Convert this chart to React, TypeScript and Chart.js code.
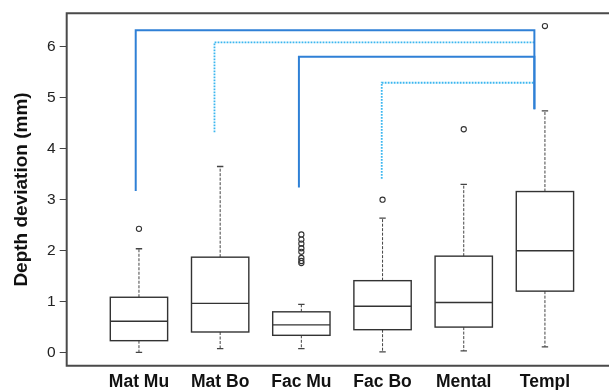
import React, { useEffect, useRef } from "react";
import { Chart, registerables } from "chart.js";

Chart.register(...registerables);

// ---- data ----
const categories = ["Mat Mu", "Mat Bo", "Fac Mu", "Fac Bo", "Mental", "Templ"];
const whiskerLow = [0.01, 0.085, 0.085, 0.02, 0.04, 0.12];
const q1 = [0.24, 0.41, 0.345, 0.455, 0.506, 1.21];
const median = [0.62, 0.97, 0.55, 0.915, 0.986, 2.0];
const q3 = [1.09, 1.875, 0.805, 1.415, 1.895, 3.16];
const whiskerHigh = [2.04, 3.65, 0.95, 2.64, 3.3, 4.74];
const outliers: number[][] = [
  [2.43],
  [],
  [2.32, 2.22, 2.14, 2.05, 1.98, 1.86, 1.8, 1.76],
  [3.0],
  [4.38],
  [6.4],
];
const yTicks = [0, 1, 2, 3, 4, 5, 6];

// significance brackets (x in category units, y in mm)
const bracketFromX = [0.96, 1.93, 2.97, 3.99];
const bracketToX = [5.87, 5.87, 5.87, 5.87];
const bracketStartY = [3.17, 4.32, 3.24, 3.41];
const bracketTopY = [6.32, 6.08, 5.8, 5.29];
const bracketEndY = [4.77, 6.08, 4.77, 5.29];
const bracketSolid = [true, false, true, false];

const FONT = "'Liberation Sans', Arial, sans-serif";
const SOLID_BLUE = "#2f80d6";
const DOT_BLUE = "#3bb6ef";
const INK = "#333333";

const boxPlugin = {
  id: "boxes",
  beforeDatasetsDraw(chart: any) {
    const ctx = chart.ctx;
    const xs = chart.scales.x;
    const ys = chart.scales.y;
    const halfW = 0.353;
    const capHalf = 3.2;
    ctx.save();
    for (let i = 0; i < categories.length; i++) {
      const cx = xs.getPixelForValue(i + 1);
      const left = xs.getPixelForValue(i + 1 - halfW);
      const right = xs.getPixelForValue(i + 1 + halfW);
      const yq1 = ys.getPixelForValue(q1[i]);
      const yq3 = ys.getPixelForValue(q3[i]);
      const ymed = ys.getPixelForValue(median[i]);
      const ylo = ys.getPixelForValue(whiskerLow[i]);
      const yhi = ys.getPixelForValue(whiskerHigh[i]);
      // whiskers
      ctx.strokeStyle = "#444";
      ctx.lineWidth = 1;
      ctx.setLineDash([3, 1.5]);
      ctx.beginPath();
      ctx.moveTo(cx, yq3);
      ctx.lineTo(cx, yhi);
      ctx.moveTo(cx, yq1);
      ctx.lineTo(cx, ylo);
      ctx.stroke();
      ctx.setLineDash([]);
      ctx.lineWidth = 1.3;
      ctx.beginPath();
      ctx.moveTo(cx - capHalf, yhi);
      ctx.lineTo(cx + capHalf, yhi);
      ctx.moveTo(cx - capHalf, ylo);
      ctx.lineTo(cx + capHalf, ylo);
      ctx.stroke();
      // box
      ctx.strokeStyle = INK;
      ctx.lineWidth = 1.4;
      ctx.fillStyle = "#fff";
      ctx.fillRect(left, yq3, right - left, yq1 - yq3);
      ctx.strokeRect(left, yq3, right - left, yq1 - yq3);
      ctx.beginPath();
      ctx.moveTo(left, ymed);
      ctx.lineTo(right, ymed);
      ctx.stroke();
    }
    ctx.restore();
  },
  afterDraw(chart: any) {
    const ctx = chart.ctx;
    const a = chart.chartArea;
    ctx.save();
    ctx.strokeStyle = "#4a4a4a";
    ctx.lineWidth = 2;
    ctx.beginPath();
    ctx.moveTo(chart.width, a.top);
    ctx.lineTo(a.left, a.top);
    ctx.lineTo(a.left, a.bottom);
    ctx.lineTo(chart.width, a.bottom);
    ctx.stroke();
    ctx.restore();
  },
};

export default function App() {
  const ref = useRef<HTMLCanvasElement | null>(null);

  useEffect(() => {
    if (!ref.current) return;
    const outlierData: { x: number; y: number }[] = [];
    outliers.forEach((arr, i) => arr.forEach((v) => outlierData.push({ x: i + 1, y: v })));

    const bracketSets = bracketFromX.map((fx, k) => ({
      type: "scatter" as const,
      data: [
        { x: fx, y: bracketStartY[k] },
        { x: fx, y: bracketTopY[k] },
        { x: bracketToX[k], y: bracketTopY[k] },
        { x: bracketToX[k], y: bracketEndY[k] },
      ],
      showLine: true,
      borderColor: bracketSolid[k] ? SOLID_BLUE : DOT_BLUE,
      borderWidth: bracketSolid[k] ? 2 : 1.8,
      borderDash: bracketSolid[k] ? [] : [1.8, 1.2],
      pointRadius: 0,
      tension: 0,
      fill: false,
      order: bracketSolid[k] ? 1 : 2,
    }));

    const chart = new Chart(ref.current, {
      type: "scatter",
      data: {
        datasets: [
          {
            data: outlierData,
            pointStyle: "circle",
            pointRadius: 2.6,
            borderWidth: 1.1,
            borderColor: INK,
            backgroundColor: "rgba(255,255,255,0)",
            order: 0,
          },
          ...bracketSets,
        ] as any,
      },
      options: {
        animation: false,
        responsive: false,
        layout: { padding: { top: 11, right: 12.8, left: 0, bottom: 0 } },
        plugins: { legend: { display: false }, tooltip: { enabled: false } },
        scales: {
          x: {
            type: "linear",
            min: 0.11,
            max: 6.89,
            afterBuildTicks: (s: any) => {
              s.ticks = categories.map((_, i) => ({ value: i + 1 }));
            },
            afterFit: (s: any) => {
              s.height = 24.3;
            },
            grid: { display: false, drawTicks: false },
            border: { display: false },
            ticks: {
              autoSkip: false,
              maxRotation: 0,
              padding: 5.5,
              color: "#111",
              font: { family: FONT, size: 17.5, weight: "bold" },
              callback: (v: any) => categories[Number(v) - 1] ?? "",
            },
          },
          y: {
            type: "linear",
            min: -0.25,
            max: 6.65,
            afterBuildTicks: (s: any) => {
              s.ticks = yTicks.map((v) => ({ value: v }));
            },
            afterFit: (s: any) => {
              s.width = 66.7;
            },
            grid: {
              drawOnChartArea: false,
              drawTicks: true,
              tickLength: 7,
              color: "#444",
              lineWidth: 1,
            },
            border: { display: false },
            ticks: {
              padding: 4,
              color: "#222",
              font: { family: FONT, size: 15.5 },
            },
            title: {
              display: true,
              text: "Depth deviation (mm)",
              color: "#111",
              font: { family: FONT, size: 19, weight: "bold" },
              padding: { top: 10, bottom: 0 },
            },
          },
        },
      },
      plugins: [boxPlugin],
    });
    return () => chart.destroy();
  }, []);

  return (
    <div
      style={{
        position: "fixed",
        left: 0,
        top: 0,
        width: 609,
        height: 390,
        overflow: "hidden",
        background: "#fff",
      }}
    >
      <canvas ref={ref} width={630} height={390} style={{ width: 630, height: 390, display: "block" }} />
    </div>
  );
}
